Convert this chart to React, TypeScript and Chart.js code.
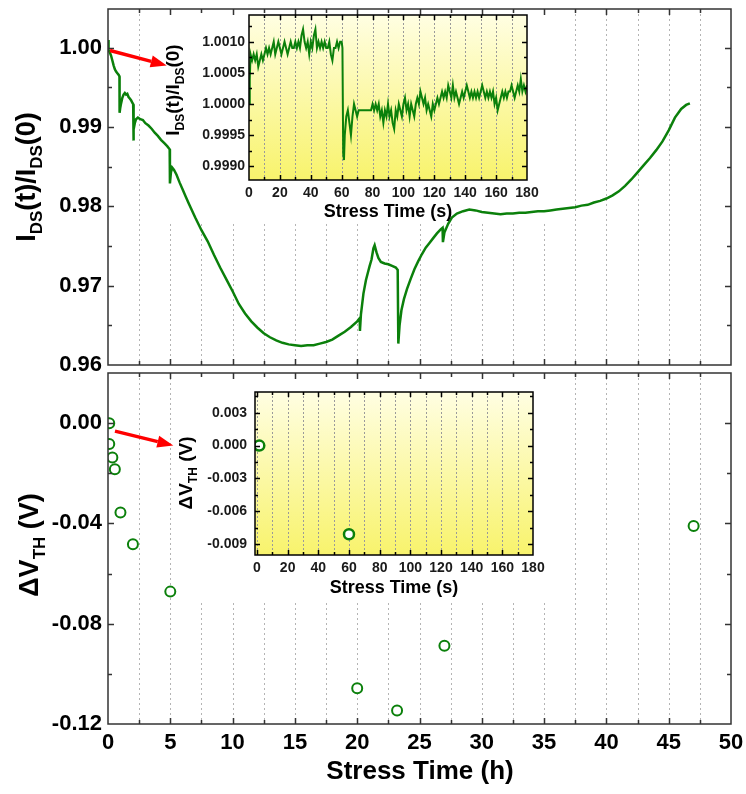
import { useEffect, useRef } from "react";
import { Chart, registerables } from "chart.js";
Chart.register(...registerables);

const FONT = "'Liberation Sans', Arial, Helvetica, sans-serif";
const GREEN = "#0b800b";

// ---------- main top panel: I_DS(t)/I_DS(0) vs stress time (h) ----------
const hoursTop = [
  0.0, 0.02, 0.03, 0.08, 0.15, 0.25, 0.35, 0.45, 0.55, 0.65, 0.75, 0.85, 0.92, 0.93, 0.98, 1.05, 1.15, 1.25, 1.35, 1.45,
  1.55, 1.65, 1.75, 1.85, 1.95, 2.02, 2.03, 2.08, 2.15, 2.25, 2.4, 2.6, 2.8, 3.0, 3.25, 3.5, 3.75, 4.0, 4.25, 4.5,
  4.75, 4.95, 4.97, 5.05, 5.15, 5.3, 5.5, 5.75, 6.0, 6.25, 6.5, 7.0, 7.5, 8.0, 8.5, 9.0, 9.5, 10.0, 10.5, 11.0,
  11.5, 12.0, 12.5, 13.0, 13.5, 14.0, 14.5, 15.0, 15.5, 16.0, 16.5, 17.0, 17.5, 18.0, 18.5, 19.0, 19.5, 20.0, 20.2, 20.22,
  20.3, 20.5, 20.7, 20.85, 21.0, 21.15, 21.3, 21.4, 21.55, 21.7, 21.9, 22.2, 22.5, 22.8, 23.1, 23.25, 23.3, 23.4, 23.55, 23.75,
  24.0, 24.3, 24.6, 24.9, 25.2, 25.5, 25.8, 26.1, 26.4, 26.7, 26.85, 26.88, 27.0, 27.3, 27.6, 28.0, 28.5, 29.0, 29.5, 30.0,
  30.5, 31.0, 31.5, 32.0, 32.5, 33.0, 33.5, 34.0, 34.5, 35.0, 35.5, 36.0, 36.5, 37.0, 37.5, 38.0, 38.5, 39.0, 39.5, 40.0,
  40.5, 41.0, 41.5, 42.0, 42.5, 43.0, 43.5, 44.0, 44.5, 45.0, 45.5, 46.0, 46.4, 46.7,
];
const ratioTop = [
  1.0005, 1.001, 0.9999, 0.9997, 0.9994, 0.999, 0.9984, 0.9978, 0.9973, 0.997, 0.9968, 0.9966, 0.9964, 0.9918, 0.9924, 0.993, 0.9937, 0.9941, 0.9943, 0.9941,
  0.9942, 0.9938, 0.9936, 0.9934, 0.9931, 0.9929, 0.9883, 0.9897, 0.9905, 0.991, 0.9912, 0.991, 0.9909, 0.9905, 0.9902, 0.9898, 0.9893, 0.9889, 0.9884, 0.988,
  0.9876, 0.9872, 0.9829, 0.9843, 0.9849, 0.9846, 0.984, 0.983, 0.9821, 0.9812, 0.9803, 0.9786, 0.977, 0.9756, 0.9739, 0.9723, 0.9708, 0.9693, 0.9677, 0.9665,
  0.9655, 0.9647, 0.964, 0.9635, 0.9631, 0.9628, 0.9626, 0.9625, 0.9624, 0.9625, 0.9625, 0.9627, 0.9629, 0.9632, 0.9637, 0.9642, 0.9648, 0.9655, 0.9659, 0.9643,
  0.9664, 0.969, 0.9707, 0.9716, 0.9725, 0.9733, 0.9747, 0.9751, 0.9742, 0.9735, 0.973, 0.9728, 0.9727, 0.9725, 0.9723, 0.972, 0.9627, 0.965, 0.9669, 0.9683,
  0.9696, 0.9709, 0.9721, 0.9731, 0.974, 0.9748, 0.9754, 0.976, 0.9766, 0.9771, 0.9773, 0.9755, 0.9767, 0.9778, 0.9786, 0.9791, 0.9794, 0.9796, 0.9795, 0.9793,
  0.9792, 0.9791, 0.979, 0.9791, 0.9791, 0.9792, 0.9792, 0.9793, 0.9794, 0.9794, 0.9795, 0.9796, 0.9797, 0.9798, 0.9799, 0.9801, 0.9802, 0.9805, 0.9807, 0.981,
  0.9814, 0.9819, 0.9826, 0.9834, 0.9843, 0.9852, 0.9861, 0.9871, 0.9882, 0.9896, 0.9912, 0.9923, 0.9928, 0.993,
];
const topYTicks = [0.96, 0.97, 0.98, 0.99, 1.0];
const hourTicks = [0, 5, 10, 15, 20, 25, 30, 35, 40, 45, 50];
const arrowTopX = [0.16, 4.71];
const arrowTopY = [0.99967, 0.99778];

// ---------- main bottom panel: ΔV_TH vs stress time (h) ----------
const hoursDv = [0.1, 0.1, 0.35, 0.55, 1.0, 2.0, 5.0, 20.0, 23.2, 27.0, 47.0];
const dvth = [0.0, -0.0083, -0.0137, -0.0184, -0.0356, -0.0483, -0.0672, -0.1057, -0.1146, -0.0888, -0.041];
const bottomYTicks = [-0.12, -0.08, -0.04, 0.0];
const arrowBotX = [0.56, 5.24];
const arrowBotY = [-0.0032, -0.0089];

// ---------- inset 1: I_DS ratio vs stress time (s) ----------
const secInset1 = [
  0, 0.5, 1,
  2, 3, 4, 5, 6, 7, 8, 9, 10, 11,
  12, 13, 14, 15, 16, 17, 18, 19, 20, 21,
  22, 23, 24, 25, 26, 27, 28, 29, 30, 31,
  32, 33, 34, 35, 36, 37, 38, 39, 40, 41,
  42, 43, 44, 45, 46, 47, 48, 49, 50, 51,
  52, 53, 54, 55, 56, 57, 58, 59, 60,
  60.5, 61, 61.5,
  62, 63, 64, 65, 66, 67, 68, 69, 70, 71,
  72, 73, 74, 75, 76, 77, 78, 79, 80, 81,
  82, 83, 84, 85, 86, 87, 88, 89, 90, 91,
  92, 93, 94, 95, 96, 97, 98, 99, 100, 101,
  102, 103, 104, 105, 106, 107, 108, 109, 110, 111,
  112, 113, 114, 115, 116, 117, 118, 119, 120, 121,
  122, 123, 124, 125, 126, 127, 128, 129, 130, 131,
  132, 133, 134, 135, 136, 137, 138, 139, 140, 141,
  142, 143, 144, 145, 146, 147, 148, 149, 150, 151,
  152, 153, 154, 155, 156, 157, 158, 159, 160, 161,
  162, 163, 164, 165, 166, 167, 168, 169, 170, 171,
  172, 173, 174, 175, 176, 177, 178, 179, 180,
];
const ratioInset1 = [
  1.0, 1.0004, 1.0008,
  1.0007, 1.0008, 1.0007, 1.0008, 1.0006, 1.0007, 1.0008, 1.0007, 1.0008, 1.0009,
  1.0008, 1.0009, 1.0008, 1.0009, 1.001, 1.0008, 1.0009, 1.001, 1.0009, 1.0008,
  1.0009, 1.001, 1.0009, 1.0008, 1.0009, 1.001, 1.0009, 1.0009, 1.001, 1.0009,
  1.001, 1.0009, 1.0011, 1.0012, 1.001, 1.0009, 1.001, 1.0008, 1.001, 1.0009,
  1.0011, 1.0012, 1.0009, 1.001, 1.0009, 1.001, 1.0009, 1.001, 1.0009, 1.0009,
  1.001, 1.0008, 1.0007, 1.0009, 1.0009, 1.001, 1.0009, 1.001, 1.001,
  1.0009, 0.9992, 0.9991,
  0.9995, 0.9998, 0.9999, 0.9997, 0.9995, 0.9998, 1.0, 0.9999, 0.9998, 0.9999,
  0.9999, 0.9999, 0.9999, 0.9999, 0.9999, 0.9999, 0.9999, 0.9999, 1.0, 0.9999,
  1.0, 0.9999, 1.0, 0.9998, 0.9999, 0.9997, 0.9999, 0.9998, 1.0, 0.9998,
  0.9999, 0.9997, 0.9996, 0.9999, 0.9998, 1.0, 0.9999, 0.9998, 1.0, 1.0001,
  0.9999, 1.0, 0.9998, 1.0, 0.9999, 0.9998, 1.0, 1.0001, 1.0, 1.0002,
  1.0001, 1.0, 1.0001, 0.9999, 1.0, 0.9999, 0.9998, 1.0, 0.9999, 1.0,
  1.0001, 1.0, 1.0001, 1.0002, 1.0001, 1.0002, 1.0001, 1.0003, 1.0002, 1.0001,
  1.0003, 1.0001, 1.0002, 1.0001, 1.0, 1.0001, 1.0002, 1.0001, 1.0002, 1.0003,
  1.0002, 1.0001, 1.0002, 1.0001, 1.0002, 1.0001, 1.0002, 1.0001, 1.0002, 1.0003,
  1.0002, 1.0001, 1.0002, 1.0001, 1.0002, 1.0001, 1.0002, 1.0, 1.0001, 0.9999,
  1.0, 1.0001, 1.0002, 1.0001, 1.0002, 1.0001, 1.0002, 1.0002, 1.0003, 1.0002,
  1.0001, 1.0002, 1.0003, 1.0002, 1.0004, 1.0002, 1.0003, 1.0002, 1.0003,
];
const secTicks = [0, 20, 40, 60, 80, 100, 120, 140, 160, 180];
const inset1YTicks = [0.999, 0.9995, 1.0, 1.0005, 1.001];

// ---------- inset 2: ΔV_TH vs stress time (s) ----------
const secInset2 = [1.5, 60];
const dvInset2 = [0.0, -0.0081];
const inset2YTicks = [-0.009, -0.006, -0.003, 0.0, 0.003];

type Part = { t: string; sub?: boolean };
type TitleSpec = { parts: Part[]; x: number; y: number; rot: boolean; size: number; subSize: number };
type Deco = {
  xMinor: number; xMajor: number; yMinor: number; yMajor: number;
  majorLen: number; minorLen: number;
  frameColor: string; frameWidth: number;
  gridColor: string; gridDash: number[];
  gradient?: [string, string];
  whiteBox?: [number, number, number, number];
  titles: TitleSpec[];
  arrow?: { xs: number[]; ys: number[] };
};

function drawRich(ctx: CanvasRenderingContext2D, t: TitleSpec) {
  ctx.save();
  ctx.translate(t.x, t.y);
  if (t.rot) ctx.rotate(-Math.PI / 2);
  const f = (s: number) => `bold ${s}px ${FONT}`;
  let w = 0;
  for (const p of t.parts) {
    ctx.font = f(p.sub ? t.subSize : t.size);
    w += ctx.measureText(p.t).width;
  }
  let x = -w / 2;
  ctx.fillStyle = "#000";
  ctx.textBaseline = "middle";
  ctx.textAlign = "left";
  for (const p of t.parts) {
    ctx.font = f(p.sub ? t.subSize : t.size);
    ctx.fillText(p.t, x, p.sub ? t.size * 0.36 : 0);
    x += ctx.measureText(p.t).width;
  }
  ctx.restore();
}

function stepValues(min: number, max: number, step: number, inclusive: boolean) {
  const out: number[] = [];
  const k0 = Math.ceil(min / step - 1e-6);
  const k1 = Math.floor(max / step + 1e-6);
  for (let k = k0; k <= k1; k++) {
    const v = k * step;
    const atEdge = Math.abs(v - min) < step * 1e-3 || Math.abs(v - max) < step * 1e-3;
    if (!inclusive && atEdge) continue;
    out.push(v);
  }
  return out;
}
const isMajor = (v: number, major: number) => Math.abs(v / major - Math.round(v / major)) < 1e-4;

function makeDeco(d: Deco) {
  return {
    id: "deco",
    beforeDatasetsDraw(chart: any) {
      const { ctx, chartArea: a, scales } = chart;
      const xs = scales.x;
      ctx.save();
      if (d.gradient) {
        const g = ctx.createLinearGradient(0, a.top, 0, a.bottom);
        g.addColorStop(0, d.gradient[0]);
        g.addColorStop(1, d.gradient[1]);
        ctx.fillStyle = g;
        ctx.fillRect(a.left, a.top, a.right - a.left, a.bottom - a.top);
      }
      ctx.strokeStyle = d.gridColor;
      ctx.lineWidth = 1;
      ctx.setLineDash(d.gridDash);
      for (const v of stepValues(xs.min, xs.max, d.xMinor, false)) {
        const px = Math.round(xs.getPixelForValue(v)) + 0.5;
        ctx.beginPath();
        ctx.moveTo(px, a.top);
        ctx.lineTo(px, a.bottom);
        ctx.stroke();
      }
      ctx.setLineDash([]);
      if (d.whiteBox) {
        const [x0, y0, x1, y1] = d.whiteBox;
        ctx.fillStyle = "#fff";
        ctx.fillRect(x0, y0, x1 - x0, y1 - y0);
      }
      ctx.restore();
    },
    afterDatasetsDraw(chart: any) {
      const { ctx, chartArea: a, scales } = chart;
      const xs = scales.x, ys = scales.y;
      ctx.save();
      ctx.strokeStyle = d.frameColor;
      ctx.lineWidth = d.frameWidth;
      ctx.setLineDash([]);
      for (const v of stepValues(xs.min, xs.max, d.xMinor, false)) {
        const px = Math.round(xs.getPixelForValue(v)) + 0.5;
        const L = isMajor(v, d.xMajor) ? d.majorLen : d.minorLen;
        ctx.beginPath();
        ctx.moveTo(px, a.bottom); ctx.lineTo(px, a.bottom - L);
        ctx.moveTo(px, a.top); ctx.lineTo(px, a.top + L);
        ctx.stroke();
      }
      for (const v of stepValues(ys.min, ys.max, d.yMinor, false)) {
        const py = Math.round(ys.getPixelForValue(v)) + 0.5;
        const L = isMajor(v, d.yMajor) ? d.majorLen : d.minorLen;
        ctx.beginPath();
        ctx.moveTo(a.left, py); ctx.lineTo(a.left + L, py);
        ctx.moveTo(a.right, py); ctx.lineTo(a.right - L, py);
        ctx.stroke();
      }
      ctx.strokeRect(a.left, a.top, a.right - a.left, a.bottom - a.top);
      if (d.arrow) {
        const x0 = xs.getPixelForValue(d.arrow.xs[0]), y0 = ys.getPixelForValue(d.arrow.ys[0]);
        const x1 = xs.getPixelForValue(d.arrow.xs[1]), y1 = ys.getPixelForValue(d.arrow.ys[1]);
        const ang = Math.atan2(y1 - y0, x1 - x0);
        const L = 16, W = 6;
        const bx = x1 - L * Math.cos(ang), by = y1 - L * Math.sin(ang);
        ctx.strokeStyle = "#ff0000";
        ctx.lineWidth = 3.5;
        ctx.beginPath(); ctx.moveTo(x0, y0); ctx.lineTo(bx, by); ctx.stroke();
        ctx.fillStyle = "#ff0000";
        ctx.beginPath();
        ctx.moveTo(x1, y1);
        ctx.lineTo(bx - W * Math.sin(ang), by + W * Math.cos(ang));
        ctx.lineTo(bx + W * Math.sin(ang), by - W * Math.cos(ang));
        ctx.closePath();
        ctx.fill();
      }
      ctx.restore();
    },
    afterDraw(chart: any) {
      for (const t of d.titles) drawRich(chart.ctx, t);
    },
  };
}

type AxisSpec = {
  min: number; max: number; ticks: number[]; fmt: (v: number) => string;
  size: number; pad: number; show: boolean; fit: number; isX: boolean; color: string;
};
function axis(s: AxisSpec) {
  return {
    type: "linear",
    min: s.min,
    max: s.max,
    position: s.isX ? "bottom" : "left",
    afterBuildTicks: (sc: any) => { sc.ticks = s.ticks.map((v) => ({ value: v })); },
    afterFit: (sc: any) => {
      if (s.isX) sc.height = s.fit; else sc.width = s.fit;
      sc.paddingTop = 0; sc.paddingBottom = 0; sc.paddingLeft = 0; sc.paddingRight = 0;
    },
    grid: { display: false, drawTicks: false },
    border: { display: false },
    ticks: {
      display: s.show,
      autoSkip: false,
      maxRotation: 0,
      minRotation: 0,
      padding: s.pad,
      color: s.color,
      font: { family: FONT, size: s.size, weight: "bold" },
      callback: (v: any) => s.fmt(Number(v)),
    },
  };
}

function baseOptions(padding: any, x: any, y: any) {
  return {
    responsive: false,
    maintainAspectRatio: false,
    animation: false,
    devicePixelRatio: 1,
    layout: { padding },
    plugins: { legend: { display: false }, tooltip: { enabled: false }, title: { display: false } },
    events: [],
    scales: { x, y },
  };
}

const fmt2 = (v: number) => (Math.abs(v) < 1e-9 ? "0.00" : v.toFixed(2));
const fmt3 = (v: number) => (Math.abs(v) < 1e-9 ? "0.000" : v.toFixed(3));
const fmt4 = (v: number) => v.toFixed(4);
const fmt0 = (v: number) => String(Math.round(v));

export default function App() {
  const c1 = useRef<HTMLCanvasElement>(null);
  const c2 = useRef<HTMLCanvasElement>(null);
  const c3 = useRef<HTMLCanvasElement>(null);
  const c4 = useRef<HTMLCanvasElement>(null);

  useEffect(() => {
    const charts: Chart[] = [];

    // top main panel
    charts.push(
      new Chart(c1.current!, {
        type: "line",
        data: {
          datasets: [{
            data: hoursTop.map((h, i) => ({ x: h, y: ratioTop[i] })),
            borderColor: GREEN, borderWidth: 2.5, pointRadius: 0, tension: 0, fill: false,
          }],
        },
        options: baseOptions(
          { left: 0, top: 9, right: 15, bottom: 0 },
          axis({ min: 0, max: 50, ticks: hourTicks, fmt: fmt0, size: 22, pad: 6, show: false, fit: 15, isX: true, color: "#000" }),
          axis({ min: 0.96, max: 1.0049, ticks: topYTicks, fmt: fmt2, size: 22, pad: 6, show: true, fit: 108, isX: false, color: "#000" }),
        ) as any,
        plugins: [makeDeco({
          xMinor: 2.5, xMajor: 5, yMinor: 0.005, yMajor: 0.01, majorLen: 6, minorLen: 4,
          frameColor: "#333", frameWidth: 1.5, gridColor: "#b4b4b4", gridDash: [2, 3],
          whiteBox: [160, 9, 560, 222],
          arrow: { xs: arrowTopX, ys: arrowTopY },
          titles: [{
            parts: [{ t: "I" }, { t: "DS", sub: true }, { t: "(t)/I" }, { t: "DS", sub: true }, { t: "(0)" }],
            x: 28, y: 177, rot: true, size: 27, subSize: 17,
          }],
        }) as any],
      })
    );

    // bottom main panel
    charts.push(
      new Chart(c2.current!, {
        type: "scatter",
        data: {
          datasets: [{
            data: hoursDv.map((h, i) => ({ x: h, y: dvth[i] })),
            borderColor: GREEN, backgroundColor: "#ffffff", pointBackgroundColor: "#ffffff",
            pointBorderColor: GREEN, pointRadius: 5, pointBorderWidth: 2, showLine: false,
          }],
        },
        options: baseOptions(
          { left: 0, top: 6, right: 15, bottom: 0 },
          axis({ min: 0, max: 50, ticks: hourTicks, fmt: fmt0, size: 22, pad: 6, show: true, fit: 70, isX: true, color: "#000" }),
          axis({ min: -0.12, max: 0.02, ticks: bottomYTicks, fmt: fmt2, size: 22, pad: 6, show: true, fit: 108, isX: false, color: "#000" }),
        ) as any,
        plugins: [makeDeco({
          xMinor: 2.5, xMajor: 5, yMinor: 0.02, yMajor: 0.04, majorLen: 6, minorLen: 4,
          frameColor: "#333", frameWidth: 1.5, gridColor: "#b4b4b4", gridDash: [2, 3],
          whiteBox: [175, 6, 555, 237],
          arrow: { xs: arrowBotX, ys: arrowBotY },
          titles: [
            { parts: [{ t: "ΔV" }, { t: "TH", sub: true }, { t: " (V)" }], x: 31, y: 179, rot: true, size: 27, subSize: 17 },
            { parts: [{ t: "Stress Time (h)" }], x: 420, y: 406, rot: false, size: 26, subSize: 16 },
          ],
        }) as any],
      })
    );

    // inset 1
    charts.push(
      new Chart(c3.current!, {
        type: "line",
        data: {
          datasets: [{
            data: secInset1.map((s, i) => ({ x: s, y: ratioInset1[i] })),
            borderColor: GREEN, borderWidth: 2, pointRadius: 0, tension: 0, fill: false,
          }],
        },
        options: baseOptions(
          { left: 0, top: 6, right: 33, bottom: 0 },
          axis({ min: 0, max: 180, ticks: secTicks, fmt: fmt0, size: 14, pad: 5, show: true, fit: 44, isX: true, color: "#1a1a1a" }),
          axis({ min: 0.99878, max: 1.00143, ticks: inset1YTicks, fmt: fmt4, size: 14, pad: 4, show: true, fit: 89, isX: false, color: "#1a1a1a" }),
        ) as any,
        plugins: [makeDeco({
          xMinor: 10, xMajor: 20, yMinor: 0.00025, yMajor: 0.0005, majorLen: 5, minorLen: 3,
          frameColor: "#000", frameWidth: 1.5, gridColor: "#9a9a9a", gridDash: [2, 2],
          gradient: ["#fffee2", "#f8f36c"],
          titles: [
            { parts: [{ t: "Stress Time (s)" }], x: 228, y: 203, rot: false, size: 18, subSize: 12 },
            { parts: [{ t: "I" }, { t: "DS", sub: true }, { t: "(t)/I" }, { t: "DS", sub: true }, { t: "(0)" }], x: 14, y: 81, rot: true, size: 19, subSize: 12 },
          ],
        }) as any],
      })
    );

    // inset 2
    charts.push(
      new Chart(c4.current!, {
        type: "scatter",
        data: {
          datasets: [{
            data: secInset2.map((s, i) => ({ x: s, y: dvInset2[i] })),
            borderColor: GREEN, backgroundColor: "#ffffff", pointBackgroundColor: "#ffffff",
            pointBorderColor: GREEN, pointRadius: 5, pointBorderWidth: 2.5, showLine: false,
          }],
        },
        options: baseOptions(
          { left: 0, top: 20, right: 22, bottom: 0 },
          axis({ min: -1.3, max: 180, ticks: secTicks, fmt: fmt0, size: 14, pad: 5, show: true, fit: 48, isX: true, color: "#1a1a1a" }),
          axis({ min: -0.01, max: 0.0049, ticks: inset2YTicks, fmt: fmt3, size: 14, pad: 8, show: true, fit: 80, isX: false, color: "#1a1a1a" }),
        ) as any,
        plugins: [makeDeco({
          xMinor: 10, xMajor: 20, yMinor: 0.0015, yMajor: 0.003, majorLen: 5, minorLen: 3,
          frameColor: "#000", frameWidth: 1.5, gridColor: "#9a9a9a", gridDash: [2, 2],
          gradient: ["#fffee2", "#f8f36c"],
          titles: [
            { parts: [{ t: "Stress Time (s)" }], x: 219, y: 216, rot: false, size: 18, subSize: 12 },
            { parts: [{ t: "ΔV" }, { t: "TH", sub: true }, { t: " (V)" }], x: 12, y: 101, rot: true, size: 19, subSize: 12 },
          ],
        }) as any],
      })
    );

    return () => charts.forEach((c) => c.destroy());
  }, []);

  const abs = (l: number, t: number, w: number, h: number) => ({
    position: "absolute" as const, left: l, top: t, width: w, height: h,
  });

  return (
    <div style={{ position: "fixed", left: 0, top: 0, width: 746, height: 794, background: "#fff", overflow: "hidden" }}>
      <canvas ref={c1} width={746} height={380} style={abs(0, 0, 746, 380)} />
      <canvas ref={c2} width={746} height={428} style={abs(0, 366, 746, 428)} />
      <canvas ref={c3} width={400} height={215} style={abs(160, 9, 400, 215)} />
      <canvas ref={c4} width={380} height={231} style={abs(175, 372, 380, 231)} />
    </div>
  );
}
